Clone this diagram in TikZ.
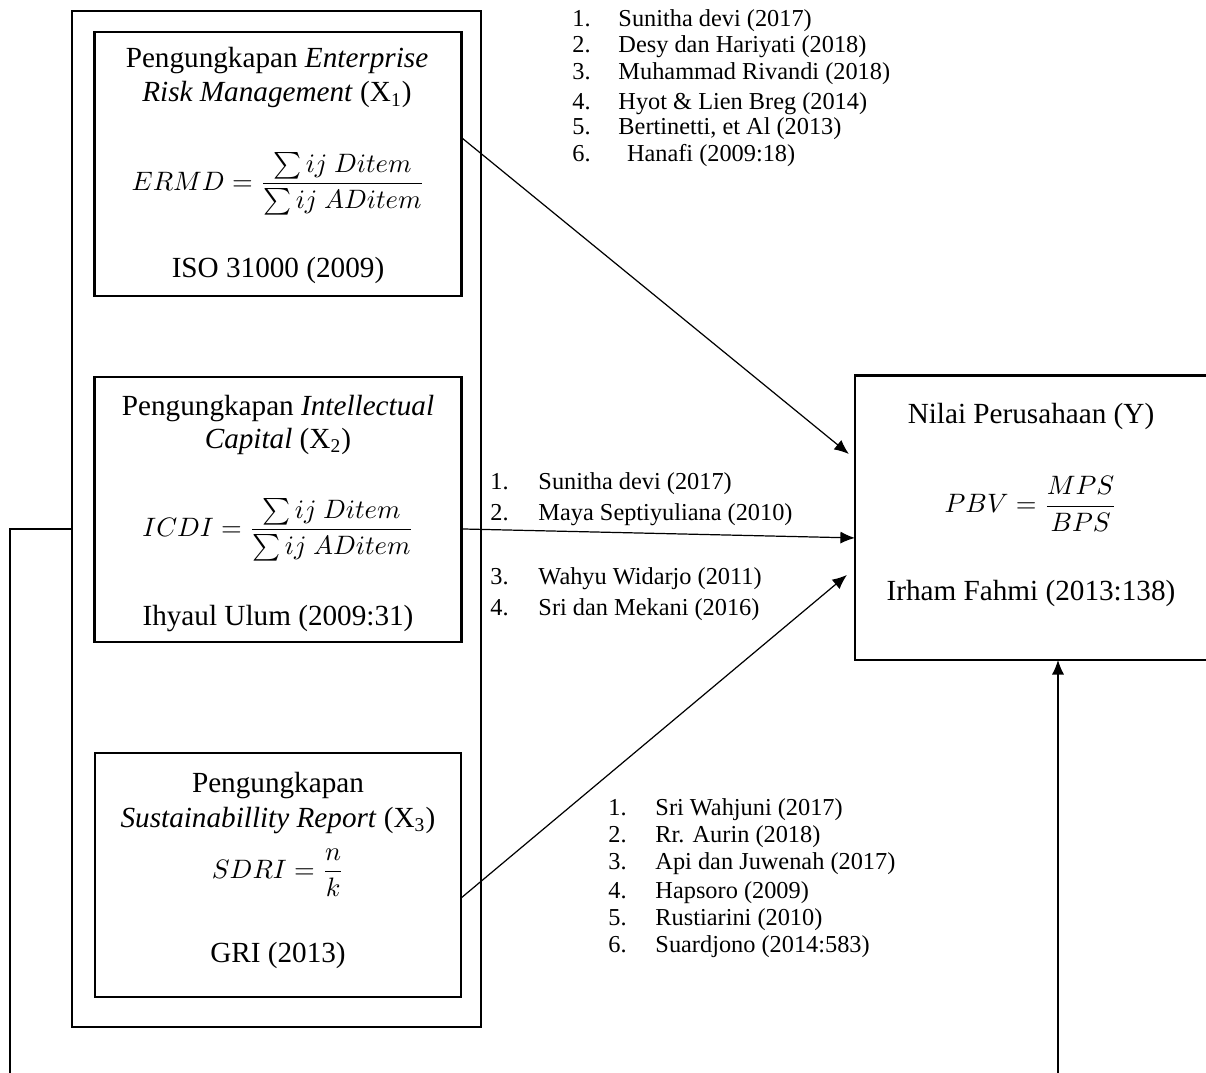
\documentclass[tikz,border=0pt]{standalone}
\usepackage{amsmath}
\usepackage{fontspec}
\setmainfont{Liberation Serif}
\usepackage{tikz}
\usetikzlibrary{positioning,arrows.meta}

\tikzset{
	varbox/.style={draw, line width=1.2pt, inner sep=0pt, outer sep=0pt},
	judul/.style={font=\fontsize{12}{14}\selectfont, inner sep=0pt, anchor=base},
	rumus/.style={font=\fontsize{11}{14}\selectfont, inner sep=0pt},
	ref/.style={font=\fontsize{10}{12}\selectfont, inner sep=0pt, anchor=base west},
	panah/.style={-{Latex[length=6pt,width=5pt]}, line width=0.5pt},
	garis/.style={line width=0.5pt}
}

\begin{document}
\begin{tikzpicture}[x=0.411pt, y=-0.411pt]
				\useasboundingbox (0,0) rectangle (1206,1073);
				% kotak variabel
				\node[draw, line width=0.8pt, inner sep=0pt, outer sep=0pt, minimum width=168.1pt, minimum height=417.6pt] (luar) at (276.5,519) {};
				\node[varbox, minimum width=151.2pt, minimum height=108.5pt] (x1) at (278,164) {};
				\node[varbox, minimum width=151.2pt, minimum height=108.9pt] (x2) at (278,509.5) {};
				\node[varbox, minimum width=150.4pt, minimum height=100.3pt] (x3) at (278,875) {};
				\node[varbox, minimum width=145.1pt, minimum height=117.1pt] (nilai) at (1031.5,517.5) {};
				% isi X1
				\node[judul] (x1a) at (277,68) {Pengungkapan \textit{Enterprise}};
				\node[judul] (x1b) at (277,102) {\textit{Risk Management} (X\textsubscript{1})};
				\node[rumus] (f1) at (278,184) {$\displaystyle ERMD = \frac{\sum ij\ Ditem}{\sum ij\ ADitem}$};
				\node[judul] (x1c) at (278,278) {ISO 31000 (2009)};
				% isi X2
				\node[judul] (x2a) at (278,415) {Pengungkapan \textit{Intellectual}};
				\node[judul] (x2b) at (278,448) {\textit{Capital} (X\textsubscript{2})};
				\node[rumus] (f2) at (278,530) {$\displaystyle ICDI = \frac{\sum ij\ Ditem}{\sum ij\ ADitem}$};
				\node[judul] (x2c) at (278,625) {Ihyaul Ulum (2009:31)};
				% isi X3
				\node[judul] (x3a) at (278,792) {Pengungkapan};
				\node[judul] (x3b) at (278,827) {\textit{Sustainabillity Report} (X\textsubscript{3})};
				\node[rumus] (f3) at (278,873) {$\displaystyle SDRI = \frac{n}{k}$};
				\node[judul] (x3c) at (278,962) {GRI (2013)};
				% isi Y
				\node[judul] (ya) at (1031,423) {Nilai Perusahaan (Y)};
				\node[rumus] (fy) at (1031,504) {$\displaystyle PBV = \frac{MPS}{BPS}$};
				\node[judul] (yc) at (1031,600) {Irham Fahmi (2013:138)};
				% daftar rujukan
				\foreach \n/\nama/\y in {1/Sunitha devi (2017)/27, 2/Desy dan Hariyati (2018)/53, 3/Muhammad Rivandi (2018)/80, 4/Hyot \& Lien Breg (2014)/110, 5/{Bertinetti, et Al (2013)}/135, 6/{\hspace{3.5pt}Hanafi (2009:18)}/162}{
					\node[ref] (erm\n) at (572,\y) {\n.};
					\node[ref] (ermn\n) at (618,\y) {\nama};
				}
				\foreach \n/\nama/\y in {1/Sunitha devi (2017)/489, 2/Maya Septiyuliana (2010)/520, 3/Wahyu Widarjo (2011)/584, 4/Sri dan Mekani (2016)/615}{
					\node[ref] (icd\n) at (490,\y) {\n.};
					\node[ref] (icdn\n) at (538,\y) {\nama};
				}
				\foreach \n/\nama/\y in {1/Sri Wahjuni (2017)/815, 2/Rr. Aurin (2018)/842, 3/Api dan Juwenah (2017)/869, 4/Hapsoro (2009)/898, 5/Rustiarini (2010)/925, 6/Suardjono (2014:583)/952}{
					\node[ref] (sdr\n) at (608,\y) {\n.};
					\node[ref] (sdrn\n) at (655,\y) {\nama};
				}
				% panah
				\coordinate (kiri) at (10,1073);
				\coordinate (kanan) at (1058,1073);
				\draw[panah] ([yshift=10.7pt]x1.east) -- ([yshift=26.1pt, xshift=-2.5pt]nilai.west);
				\draw[panah] ([yshift=-8pt]x2.east) -- ([yshift=-8.4pt]nilai.west);
				\draw[panah] ([yshift=-9.5pt]x3.east) -- ([yshift=-23.6pt, xshift=-3.3pt]nilai.west);
				\draw[garis] ([yshift=-4.1pt]luar.west) -| (kiri);
				\draw[panah] (kanan) -- (kanan |- nilai.south);
			\end{tikzpicture}
\end{document}
